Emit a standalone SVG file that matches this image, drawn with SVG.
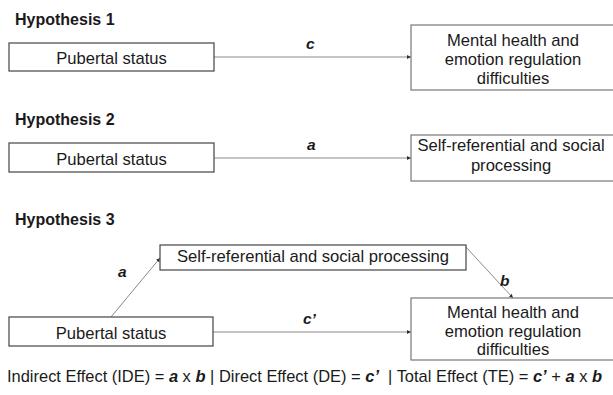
<svg xmlns="http://www.w3.org/2000/svg" width="613" height="395" viewBox="0 0 613 395">
<defs>
<style>
.t{font-family:"Liberation Sans",Arial,sans-serif;font-size:16.6px;fill:#1a1a1a}
.h{font-family:"Liberation Sans",Arial,sans-serif;font-size:16px;font-weight:bold;fill:#1a1a1a}
.l{font-family:"Liberation Sans",Arial,sans-serif;font-size:15.5px;font-weight:bold;font-style:italic;fill:#1a1a1a}
.f{font-family:"Liberation Sans",Arial,sans-serif;font-size:16.6px;fill:#1a1a1a}
.e{font-weight:bold;font-style:italic}
.box{fill:#fff;stroke:#444;stroke-width:1.2}
.box2{fill:#fff;stroke:#777;stroke-width:1.2}
.c{stroke:#8a8a8a;stroke-width:1;fill:none;marker-end:url(#ah)}
</style>
<marker id="ah" viewBox="0 0 10 10" refX="10" refY="5" markerWidth="4" markerHeight="4" markerUnits="userSpaceOnUse" orient="auto">
<path d="M0,0L10,5L0,10z" fill="#333"/>
</marker>
</defs>
<rect width="613" height="395" fill="#fff"/>
<text class="h" x="15" y="25">Hypothesis 1</text>
<text class="h" x="15" y="125">Hypothesis 2</text>
<text class="h" x="15" y="225">Hypothesis 3</text>
<g id="connectors">
<line class="c" x1="214" y1="57" x2="411" y2="57"/>
<line class="c" x1="214" y1="158" x2="411" y2="158"/>
<line class="c" x1="111" y1="317" x2="160" y2="258"/>
<line class="c" x1="465" y1="246" x2="513" y2="298"/>
<line class="c" x1="213" y1="332" x2="411" y2="332"/>
<text class="l" x="306" y="49">c</text>
<text class="l" x="307" y="150">a</text>
<text class="l" x="118" y="277">a</text>
<text class="l" x="500" y="286">b</text>
<text class="l" x="303" y="324">c’</text>
</g>
<g id="h1-pubertal">
<rect class="box" x="9" y="43" width="205" height="28"/>
<text class="t" x="111.5" y="64" text-anchor="middle">Pubertal status</text>
</g>
<g id="h1-mental">
<rect class="box2" x="411" y="25" width="204" height="65"/>
<text class="t" x="513" y="46" text-anchor="middle">Mental health and</text>
<text class="t" x="513" y="65" text-anchor="middle">emotion regulation</text>
<text class="t" x="513" y="84" text-anchor="middle">difficulties</text>
</g>
<g id="h2-pubertal">
<rect class="box" x="9" y="143" width="205" height="29"/>
<text class="t" x="111.5" y="164.5" text-anchor="middle">Pubertal status</text>
</g>
<g id="h2-self">
<rect class="box2" x="411" y="135" width="204" height="46"/>
<text class="t" x="511" y="151" text-anchor="middle">Self-referential and social</text>
<text class="t" x="511" y="170.5" text-anchor="middle">processing</text>
</g>
<g id="h3-self">
<rect class="box" x="160" y="245" width="306" height="25"/>
<text class="t" x="313" y="262" text-anchor="middle">Self-referential and social processing</text>
</g>
<g id="h3-pubertal">
<rect class="box" x="9" y="317" width="204" height="29"/>
<text class="t" x="111" y="338.5" text-anchor="middle">Pubertal status</text>
</g>
<g id="h3-mental">
<rect class="box2" x="411" y="298" width="204" height="62"/>
<text class="t" x="513" y="318" text-anchor="middle">Mental health and</text>
<text class="t" x="513" y="337" text-anchor="middle">emotion regulation</text>
<text class="t" x="513" y="355" text-anchor="middle">difficulties</text>
</g>
<text class="f" x="7" y="382" textLength="595" lengthAdjust="spacingAndGlyphs" xml:space="preserve">Indirect Effect (IDE) = <tspan class="e">a</tspan> x <tspan class="e">b</tspan> | Direct Effect (DE) = <tspan class="e">c’</tspan>  | Total Effect (TE) = <tspan class="e">c’</tspan> + <tspan class="e">a</tspan> x <tspan class="e">b</tspan></text>
</svg>
